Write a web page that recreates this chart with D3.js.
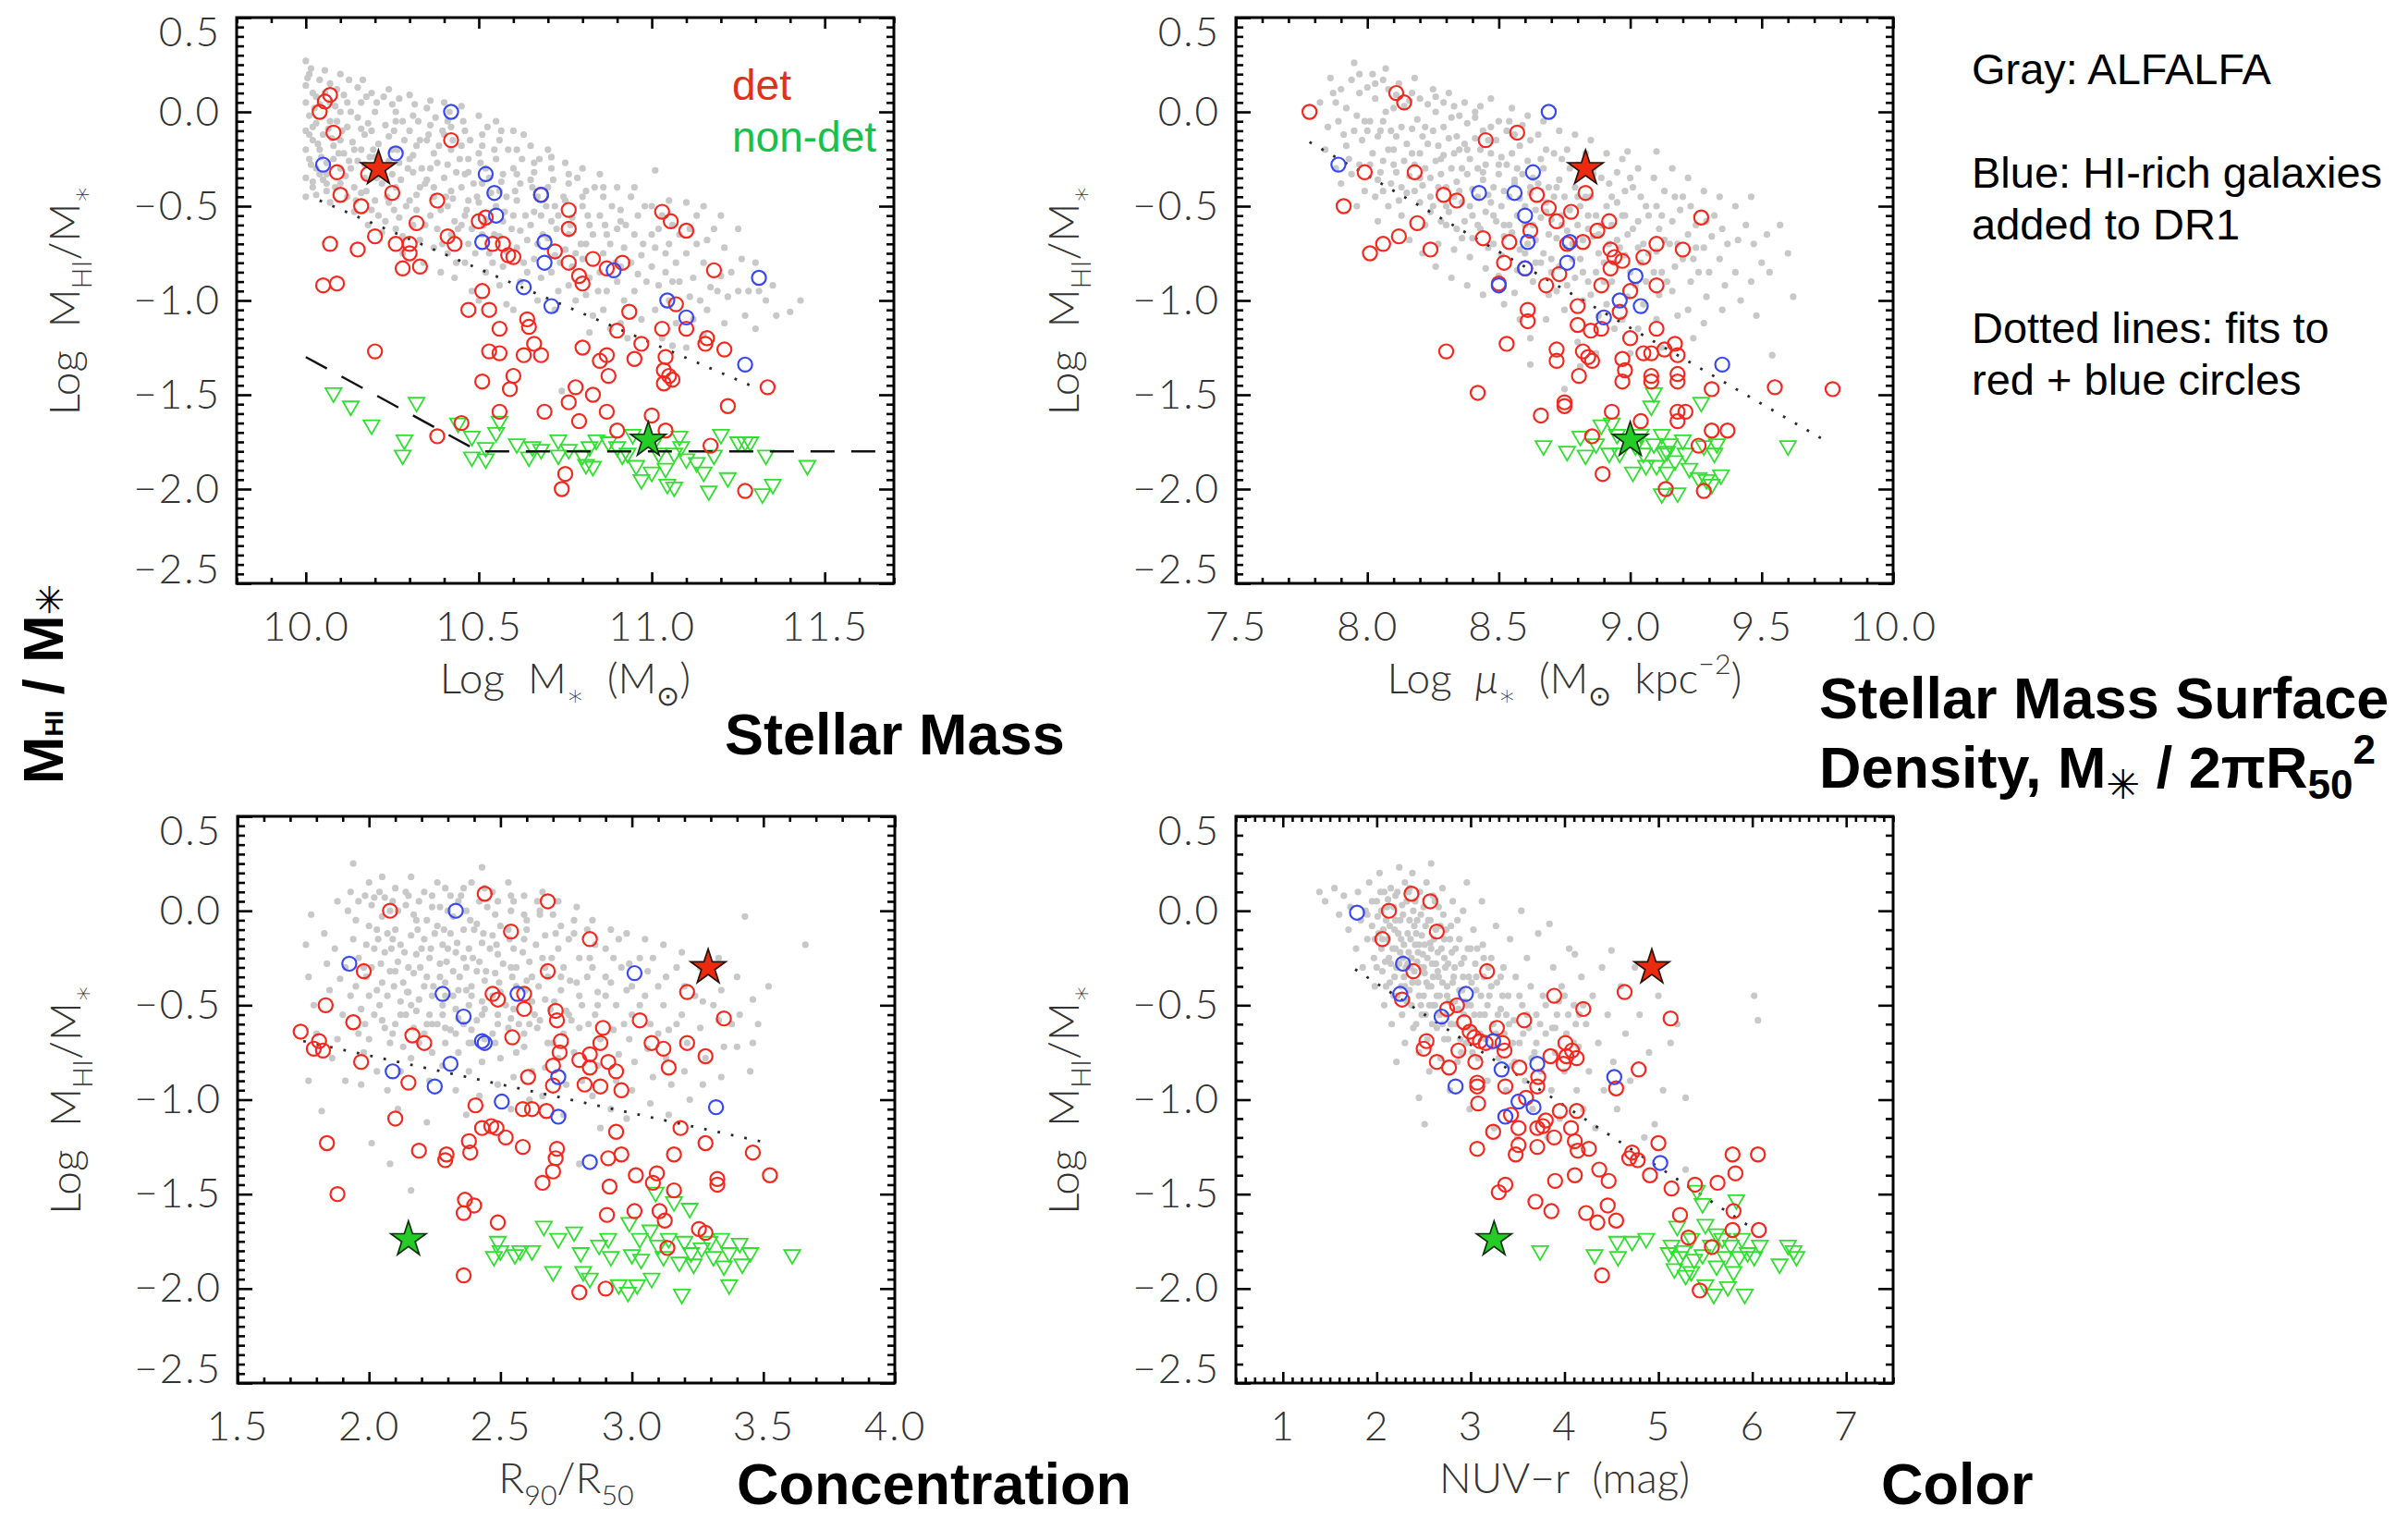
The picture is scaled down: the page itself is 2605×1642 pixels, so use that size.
<!DOCTYPE html>
<html>
<head>
<meta charset="utf-8">
<script src="https://cdn.jsdelivr.net/npm/d3@7"></script>
<style>
  html, body { margin: 0; padding: 0; background: #fff; }
  svg { display: block; }
</style>
</head>
<body>
<svg id="fig" width="2605" height="1642"></svg>
<script>
// ---------------------------------------------------------------
// Tick labels
// ---------------------------------------------------------------
const ratioTicks   = [0.5, 0.0, -0.5, -1.0, -1.5, -2.0, -2.5];
const massTicks    = [10.0, 10.5, 11.0, 11.5];
const densityTicks = [7.5, 8.0, 8.5, 9.0, 9.5, 10.0];
const concTicks    = [1.5, 2.0, 2.5, 3.0, 3.5, 4.0];
const colorTicks   = [1, 2, 3, 4, 5, 6, 7];

// ---------------------------------------------------------------
// Stellar mass panel: [log M*, log MHI/M*]
// ---------------------------------------------------------------
const massDet = [[10.07,0.09],[10.055,0.055],[10.04,0.0],[10.08,-0.11],[10.09,-0.32],[10.10,-0.44],[10.16,-0.50],[10.18,-0.33],[10.25,-0.43],[10.20,-0.66],[10.07,-0.70],[10.15,-0.73],[10.26,-0.70],[10.30,-0.70],[10.30,-0.75],[10.32,-0.59],[10.28,-0.83],[10.33,-0.82],[10.05,-0.92],[10.09,-0.91],[10.20,-1.27],[10.38,-0.47],[10.42,-0.15],[10.41,-0.66],[10.43,-0.70],[10.50,-0.58],[10.52,-0.56],[10.54,-0.70],[10.57,-0.70],[10.585,-0.76],[10.60,-0.77],[10.51,-0.95],[10.47,-1.05],[10.53,-1.05],[10.56,-1.15],[10.53,-1.27],[10.56,-1.28],[10.64,-1.10],[10.645,-1.14],[10.66,-1.23],[10.63,-1.29],[10.68,-1.29],[10.51,-1.43],[10.60,-1.40],[10.59,-1.47],[10.56,-1.59],[10.45,-1.65],[10.38,-1.72],[10.68,-0.44],[10.76,-0.52],[10.76,-0.62],[10.72,-0.74],[10.76,-0.80],[10.83,-0.78],[10.79,-0.87],[10.80,-0.91],[10.87,-0.83],[10.915,-0.80],[10.80,-1.25],[10.78,-1.46],[10.76,-1.54],[10.79,-1.64],[10.69,-1.59],[10.83,-1.50],[10.85,-1.32],[10.87,-1.29],[10.875,-1.40],[10.87,-1.59],[10.90,-1.69],[10.935,-1.06],[10.90,-1.16],[10.97,-1.23],[10.95,-1.31],[10.75,-1.92],[10.74,-2.0],[11.03,-0.53],[11.055,-0.58],[11.10,-0.63],[11.07,-1.02],[11.03,-1.15],[11.10,-1.15],[11.04,-1.30],[11.035,-1.37],[11.05,-1.40],[11.06,-1.42],[11.035,-1.44],[11.00,-1.61],[11.04,-1.69],[11.18,-0.84],[11.16,-1.20],[11.155,-1.23],[11.21,-1.26],[11.335,-1.46],[11.22,-1.56],[11.17,-1.77],[11.27,-2.01]];
const massHiRich = [[10.42,0.0],[10.26,-0.22],[10.05,-0.28],[10.52,-0.33],[10.545,-0.43],[10.55,-0.55],[10.68,-0.44],[10.51,-0.69],[10.69,-0.69],[10.69,-0.80],[10.63,-0.93],[10.71,-1.03],[10.89,-0.84],[11.045,-1.00],[11.10,-1.09],[11.31,-0.88],[11.27,-1.34]];
const massNonDet = [[10.08,-1.49],[10.13,-1.56],[10.19,-1.66],[10.32,-1.54],[10.285,-1.74],[10.28,-1.82],[10.44,-1.65],[10.48,-1.72],[10.48,-1.83],[10.52,-1.78],[10.52,-1.84],[10.55,-1.70],[10.56,-1.64],[10.61,-1.76],[10.645,-1.83],[10.655,-1.775],[10.68,-1.79],[10.73,-1.74],[10.73,-1.82],[10.76,-1.79],[10.80,-1.82],[10.81,-1.87],[10.83,-1.88],[10.82,-1.775],[10.84,-1.74],[10.875,-1.75],[10.90,-1.775],[10.915,-1.82],[10.945,-1.71],[10.955,-1.875],[10.97,-1.95],[11.00,-1.91],[11.02,-1.81],[11.04,-1.89],[11.045,-1.975],[11.065,-1.99],[11.065,-1.81],[11.08,-1.72],[11.085,-1.775],[11.10,-1.84],[11.13,-1.86],[11.15,-1.91],[11.165,-2.01],[11.18,-1.82],[11.20,-1.71],[11.22,-1.94],[11.25,-1.75],[11.27,-1.75],[11.285,-1.75],[11.33,-1.82],[11.32,-2.025],[11.35,-1.975],[11.45,-1.875],[10.93,-1.81],[11.01,-1.74]];
const massAlfalfa = [[10.0,0.27],[10.01,0.2],[10.0,0.14],[10.02,0.1],[10.0,0.05],[10.01,-0.02],[10.03,-0.06],[10.0,-0.1],[10.02,-0.15],[10.0,-0.2],[10.01,-0.25],[10.03,-0.3],[10.0,-0.35],[10.02,-0.4],[10.0,-0.45],[10.04,0.17],[10.04,0.04],[10.05,-0.12],[10.04,-0.2],[10.06,-0.27],[10.05,-0.36],[10.06,-0.42],[10.07,0.15],[10.07,-0.05],[10.08,-0.18],[10.08,-0.25],[10.07,-0.48],
[10.1,0.2],[10.11,0.09],[10.1,0.0],[10.12,-0.08],[10.1,-0.15],[10.11,-0.22],[10.13,-0.3],[10.1,-0.38],[10.12,-0.45],[10.14,-0.53],[10.15,0.13],[10.16,0.05],[10.15,-0.03],[10.17,-0.12],[10.16,-0.2],[10.15,-0.26],[10.17,-0.35],[10.16,-0.43],[10.18,-0.6],[10.19,0.1],[10.2,0.0],[10.19,-0.1],[10.21,-0.17],[10.2,-0.24],[10.22,-0.38],[10.2,-0.47],[10.21,-0.55],[10.22,-0.64],
[10.24,0.12],[10.25,0.04],[10.26,-0.05],[10.24,-0.13],[10.25,-0.2],[10.27,-0.27],[10.25,-0.33],[10.26,-0.4],[10.24,-0.48],[10.27,-0.56],[10.26,-0.62],[10.28,-0.75],[10.3,0.09],[10.31,-0.02],[10.3,-0.1],[10.32,-0.18],[10.3,-0.25],[10.31,-0.32],[10.33,-0.4],[10.3,-0.47],[10.32,-0.52],[10.31,-0.6],[10.33,-0.68],[10.34,-0.8],[10.35,0.02],[10.36,-0.07],[10.35,-0.15],[10.37,-0.22],[10.36,-0.3],[10.35,-0.36],[10.37,-0.45],[10.36,-0.55],[10.38,-0.62],[10.37,-0.72],[10.39,-0.85],
[10.4,0.05],[10.41,-0.05],[10.4,-0.12],[10.42,-0.2],[10.41,-0.28],[10.4,-0.35],[10.42,-0.42],[10.41,-0.5],[10.43,-0.58],[10.42,-0.65],[10.41,-0.75],[10.43,-0.88],[10.45,0.03],[10.46,-0.1],[10.45,-0.18],[10.47,-0.25],[10.46,-0.33],[10.45,-0.4],[10.47,-0.47],[10.46,-0.55],[10.48,-0.62],[10.47,-0.7],[10.46,-0.8],[10.48,-0.95],[10.5,-0.02],[10.51,-0.12],[10.5,-0.22],[10.52,-0.3],[10.51,-0.38],[10.5,-0.48],[10.52,-0.57],[10.51,-0.65],[10.53,-0.75],[10.52,-0.85],[10.5,-1.0],
[10.55,-0.05],[10.56,-0.15],[10.55,-0.25],[10.57,-0.33],[10.56,-0.42],[10.55,-0.5],[10.57,-0.58],[10.56,-0.66],[10.58,-0.74],[10.57,-0.82],[10.56,-0.92],[10.58,-1.02],[10.6,-0.1],[10.61,-0.2],[10.6,-0.3],[10.62,-0.38],[10.61,-0.47],[10.6,-0.55],[10.62,-0.63],[10.61,-0.72],[10.63,-0.8],[10.62,-0.9],[10.6,-1.05],[10.65,-0.18],[10.66,-0.27],[10.65,-0.36],[10.67,-0.45],[10.66,-0.53],[10.65,-0.6],[10.67,-0.7],[10.66,-0.78],[10.68,-0.88],[10.67,-1.0],
[10.7,-0.2],[10.71,-0.3],[10.7,-0.4],[10.72,-0.5],[10.71,-0.58],[10.7,-0.67],[10.72,-0.76],[10.71,-0.85],[10.73,-0.95],[10.72,-1.05],[10.75,-0.27],[10.76,-0.38],[10.75,-0.47],[10.77,-0.56],[10.76,-0.65],[10.75,-0.73],[10.77,-0.82],[10.76,-0.92],[10.78,-1.0],[10.74,-1.48],[10.8,-0.3],[10.81,-0.42],[10.8,-0.5],[10.82,-0.6],[10.81,-0.7],[10.8,-0.78],[10.82,-0.88],[10.81,-0.97],[10.83,-1.08],[10.82,-1.17],
[10.85,-0.33],[10.86,-0.45],[10.85,-0.55],[10.87,-0.65],[10.86,-0.75],[10.85,-0.85],[10.87,-0.95],[10.86,-1.05],[10.88,-1.15],[10.9,-0.4],[10.91,-0.52],[10.9,-0.62],[10.92,-0.72],[10.91,-0.82],[10.9,-0.9],[10.92,-1.0],[10.91,-1.12],[10.93,-1.2],[10.95,-0.4],[10.96,-0.55],[10.95,-0.65],[10.97,-0.76],[10.96,-0.86],[10.95,-0.95],[10.97,-1.1],
[11.01,-0.31],[11.0,-0.5],[11.02,-0.62],[11.01,-0.72],[11.0,-0.82],[11.02,-0.92],[11.01,-1.05],[11.03,-1.2],[11.05,-0.47],[11.06,-0.6],[11.05,-0.7],[11.07,-0.8],[11.06,-0.9],[11.05,-1.0],[11.07,-1.12],[11.06,-1.24],[11.1,-0.48],[11.11,-0.62],[11.1,-0.75],[11.12,-0.88],[11.11,-0.98],[11.12,-1.1],[11.1,-1.25],
[11.15,-0.5],[11.16,-0.68],[11.15,-0.8],[11.17,-0.93],[11.16,-1.05],[11.15,-1.18],[11.2,-0.55],[11.21,-0.72],[11.2,-0.87],[11.22,-0.98],[11.21,-1.12],[11.25,-0.62],[11.26,-0.78],[11.25,-0.95],[11.27,-1.08],[11.3,-0.8],[11.31,-0.95],[11.3,-1.15],[11.35,-0.92],[11.36,-1.08],[11.4,-1.06],[11.43,-1.0],
[10.015,0.23],[10.03,0.08],[10.02,-0.08],[10.035,-0.17],[10.015,-0.28],[10.04,-0.33],[10.03,-0.44],[10.055,0.1],[10.065,-0.09],[10.06,-0.33],[10.085,0.03],[10.09,-0.05],[10.095,-0.22],[10.1,-0.3],[10.085,-0.4],[10.125,0.17],[10.13,0.0],[10.135,-0.16],[10.125,-0.26],[10.14,-0.4],[10.145,-0.47],[10.175,0.08],[10.18,-0.06],[10.185,-0.24],[10.175,-0.42],[10.19,-0.52],[10.205,0.05],[10.23,-0.07],[10.215,-0.3],[10.235,-0.45],[10.23,-0.58],[10.255,-0.1],[10.27,0.07],[10.285,-0.15],[10.275,-0.36],[10.29,-0.5],[10.28,-0.66],[10.31,-0.23],[10.325,-0.05],[10.335,-0.3],[10.32,-0.44],[10.345,-0.6],[10.355,-0.12],[10.375,-0.03],[10.385,-0.18],[10.37,-0.4],[10.39,-0.52],[10.395,-0.7],[10.415,0.0],[10.425,-0.15],[10.435,-0.32],[10.425,-0.46],[10.44,-0.62],[10.435,-0.8],[10.455,-0.05],[10.475,-0.15],[10.485,-0.38],[10.465,-0.52],[10.49,-0.75],[10.505,-0.27],[10.525,-0.08],[10.535,-0.43],[10.515,-0.6],[10.54,-0.8],[10.545,-0.2],[10.565,-0.37],[10.575,-0.53],[10.585,-0.2],[10.595,-0.62],[10.605,-0.42],[10.625,-0.25],[10.635,-0.55],[10.64,-0.85],[10.655,-0.4],[10.675,-0.25],[10.685,-0.65],[10.695,-0.5],[10.715,-0.36],[10.725,-0.62],[10.735,-0.8],[10.745,-0.45],[10.765,-0.6],[10.785,-0.35],[10.795,-0.7],[10.815,-0.55],[10.835,-0.4],[10.845,-0.95],[10.865,-0.6],[10.885,-0.5],[10.895,-0.8],[10.925,-0.6],[10.94,-0.45],[10.975,-0.7],[10.985,-0.9],[11.03,-0.55],[11.04,-0.85],[11.08,-0.65],[11.13,-0.7],[11.14,-1.0],[11.18,-0.62],[11.23,-0.85],[11.28,-0.95],[11.33,-1.0],
[10.005,0.18],[10.025,0.02],[10.01,-0.12],[10.045,-0.24],[10.02,-0.37],[10.055,0.22],[10.07,0.05],[10.075,-0.14],[10.06,-0.38],[10.09,0.12],[10.105,-0.1],[10.115,-0.34],[10.12,0.05],[10.14,-0.2],[10.165,0.17],[10.16,-0.09],[10.17,-0.28],[10.195,-0.2],[10.205,-0.35],[10.225,0.08],[10.24,-0.26],[10.26,0.0],[10.265,-0.2],[10.255,-0.52],[10.28,-0.05],[10.295,-0.3],[10.315,0.04],[10.33,-0.15],[10.345,-0.38],[10.36,0.06],[10.38,-0.27],[10.395,-0.1],[10.405,-0.45],[10.42,-0.08],[10.445,-0.25],[10.45,-0.6],[10.47,-0.32],[10.495,-0.45],[10.51,-0.18],[10.53,-0.35],[10.545,-0.65],[10.565,-0.1],[10.58,-0.45],[10.61,-0.33],[10.63,-0.12],[10.64,-0.68],[10.66,-0.32],[10.68,-0.55],[10.71,-0.24],[10.73,-0.55],[10.76,-0.33],[10.78,-0.75],[10.8,-0.45],[10.83,-0.65],[10.86,-0.4],[10.88,-0.7],[10.91,-0.58],[10.94,-0.8],[10.98,-0.5],[11.0,-0.65],[11.04,-0.75],[11.08,-0.9],[11.13,-0.55],[11.19,-0.95]];
const massFit = [[10.04,-0.47],[11.31,-1.47]];
const massLimit = [[10.0,-1.3],[10.5,-1.8],[11.7,-1.8]];
const massStarDet = [10.21,-0.30];
const massStarNonDet = [10.99,-1.74];

// ---------------------------------------------------------------
// Stellar mass surface density panel: [log mu*, log MHI/M*]
// ---------------------------------------------------------------
const densityDet = [[7.78,0.0],[8.11,0.10],[8.14,0.05],[8.45,-0.15],[8.57,-0.11],[7.99,-0.32],[8.18,-0.32],[7.91,-0.50],[8.29,-0.44],[8.34,-0.47],[8.19,-0.59],[8.01,-0.75],[8.06,-0.70],[8.12,-0.66],[8.24,-0.73],[8.44,-0.67],[8.54,-0.69],[8.52,-0.80],[8.60,-0.83],[8.62,-0.63],[8.645,-0.44],[8.69,-0.51],[8.72,-0.58],[8.775,-0.53],[8.83,-0.43],[8.76,-0.70],[8.82,-0.69],[8.875,-0.63],[8.92,-0.58],[8.925,-0.73],[8.94,-0.77],[8.925,-0.83],[8.97,-0.79],[9.05,-0.77],[9.10,-0.70],[9.20,-0.73],[9.27,-0.56],[9.10,-0.92],[8.89,-0.92],[8.73,-0.86],[8.68,-0.92],[8.50,-0.91],[8.61,-1.05],[8.61,-1.11],[8.80,-1.03],[8.80,-1.13],[8.85,-1.16],[8.89,-1.15],[8.96,-1.06],[9.0,-0.95],[9.0,-1.20],[9.10,-1.15],[8.82,-1.27],[8.84,-1.30],[8.855,-1.32],[8.72,-1.26],[8.72,-1.32],[8.53,-1.23],[8.30,-1.27],[8.42,-1.49],[8.66,-1.61],[8.75,-1.54],[8.75,-1.56],[8.805,-1.40],[8.97,-1.31],[8.98,-1.37],[8.97,-1.43],[9.05,-1.28],[9.08,-1.28],[9.13,-1.26],[9.17,-1.23],[9.18,-1.29],[9.08,-1.40],[9.08,-1.43],[9.18,-1.39],[9.18,-1.43],[9.31,-1.47],[8.93,-1.59],[9.04,-1.64],[9.18,-1.59],[9.21,-1.59],[9.18,-1.64],[8.855,-1.72],[8.895,-1.92],[9.31,-1.69],[9.37,-1.69],[9.26,-1.77],[9.135,-2.0],[9.28,-2.01],[9.55,-1.46],[9.77,-1.47]];
const densityHiRich = [[8.69,0.0],[7.89,-0.28],[8.63,-0.32],[8.425,-0.43],[8.56,-0.43],[8.60,-0.55],[8.61,-0.69],[8.77,-0.69],[8.76,-0.80],[8.60,-0.83],[8.50,-0.92],[9.02,-0.87],[8.96,-1.0],[9.04,-1.03],[8.90,-1.09],[9.35,-1.34]];
const densityNonDet = [[8.67,-1.77],[8.76,-1.80],[8.81,-1.72],[8.83,-1.82],[8.87,-1.76],[8.89,-1.66],[8.93,-1.65],[8.92,-1.81],[8.95,-1.71],[8.96,-1.81],[9.02,-1.77],[9.04,-1.71],[9.05,-1.81],[9.09,-1.76],[9.09,-1.49],[9.08,-1.56],[9.10,-1.875],[9.12,-1.71],[9.13,-1.81],[9.14,-1.91],[9.15,-1.76],[9.17,-1.85],[9.18,-2.02],[9.20,-1.74],[9.21,-1.81],[9.225,-1.89],[9.26,-1.94],[9.27,-1.54],[9.28,-1.77],[9.29,-1.95],[9.31,-1.975],[9.32,-1.81],[9.33,-1.76],[9.345,-1.925],[9.01,-1.91],[9.06,-1.875],[9.14,-1.80],[9.60,-1.77],[9.12,-2.025]];
const densityAlfalfa = [[7.82,0.05],[7.85,-0.08],[7.86,0.18],[7.84,-0.2],[7.88,-0.3],[7.9,0.12],[7.92,0.02],[7.91,-0.12],[7.93,-0.25],[7.9,-0.38],[7.95,0.26],[7.97,0.1],[7.96,-0.02],[7.98,-0.15],[7.97,-0.28],[7.99,-0.42],[7.96,-0.5],
[8.02,0.2],[8.03,0.07],[8.01,-0.05],[8.04,-0.13],[8.02,-0.22],[8.05,-0.32],[8.03,-0.45],[8.04,-0.58],[8.07,0.23],[8.08,0.12],[8.07,0.0],[8.09,-0.1],[8.08,-0.2],[8.1,-0.28],[8.09,-0.38],[8.08,-0.5],
[8.12,0.15],[8.14,0.03],[8.13,-0.08],[8.15,-0.17],[8.14,-0.26],[8.16,-0.34],[8.15,-0.43],[8.13,-0.55],[8.16,-0.68],[8.18,0.18],[8.2,0.07],[8.19,-0.04],[8.21,-0.13],[8.2,-0.22],[8.22,-0.3],[8.21,-0.39],[8.2,-0.48],[8.22,-0.6],[8.21,-0.75],
[8.25,0.12],[8.26,0.0],[8.25,-0.1],[8.27,-0.18],[8.26,-0.26],[8.28,-0.33],[8.27,-0.4],[8.25,-0.5],[8.28,-0.58],[8.27,-0.7],[8.26,-0.82],[8.31,0.1],[8.32,-0.03],[8.31,-0.14],[8.33,-0.22],[8.32,-0.3],[8.34,-0.37],[8.33,-0.45],[8.31,-0.53],[8.34,-0.62],[8.33,-0.73],[8.32,-0.88],
[8.37,0.05],[8.38,-0.06],[8.37,-0.17],[8.39,-0.25],[8.38,-0.33],[8.4,-0.41],[8.39,-0.5],[8.37,-0.58],[8.4,-0.67],[8.39,-0.77],[8.38,-0.92],[8.43,0.03],[8.44,-0.1],[8.43,-0.2],[8.45,-0.28],[8.44,-0.36],[8.46,-0.44],[8.45,-0.53],[8.43,-0.62],[8.46,-0.72],[8.45,-0.83],[8.44,-0.97],
[8.47,0.07],[8.5,-0.05],[8.49,-0.15],[8.51,-0.24],[8.5,-0.33],[8.52,-0.42],[8.51,-0.5],[8.49,-0.58],[8.52,-0.66],[8.51,-0.76],[8.5,-0.87],[8.52,-1.02],[8.55,0.02],[8.56,-0.12],[8.55,-0.22],[8.57,-0.3],[8.56,-0.38],[8.58,-0.46],[8.57,-0.55],[8.55,-0.64],[8.58,-0.73],[8.57,-0.84],[8.56,-0.96],[8.58,-1.1],
[8.61,-0.02],[8.62,-0.15],[8.61,-0.26],[8.63,-0.35],[8.62,-0.43],[8.64,-0.52],[8.63,-0.6],[8.61,-0.7],[8.64,-0.8],[8.63,-0.9],[8.62,-1.2],[8.62,-1.34],[8.67,-0.05],[8.68,-0.2],[8.67,-0.3],[8.69,-0.4],[8.68,-0.48],[8.7,-0.57],[8.69,-0.65],[8.67,-0.75],[8.7,-0.85],[8.69,-0.97],[8.68,-1.1],
[8.73,-0.1],[8.74,-0.25],[8.73,-0.36],[8.75,-0.45],[8.74,-0.55],[8.76,-0.63],[8.75,-0.72],[8.73,-0.82],[8.76,-0.92],[8.75,-1.05],[8.75,-1.47],[8.79,-0.12],[8.8,-0.28],[8.79,-0.4],[8.81,-0.5],[8.8,-0.6],[8.82,-0.68],[8.81,-0.78],[8.79,-0.88],[8.82,-1.0],[8.8,-1.22],[8.81,-1.35],
[8.85,-0.15],[8.86,-0.33],[8.85,-0.45],[8.87,-0.55],[8.86,-0.66],[8.88,-0.75],[8.87,-0.85],[8.85,-0.97],[8.88,-1.08],[8.87,-1.28],[8.91,-0.22],[8.92,-0.38],[8.91,-0.5],[8.93,-0.6],[8.92,-0.7],[8.94,-0.8],[8.93,-0.9],[8.91,-1.02],[8.94,-1.15],
[8.97,-0.25],[8.99,-0.21],[8.98,-0.42],[8.97,-0.55],[8.99,-0.65],[8.98,-0.76],[9.0,-0.85],[8.99,-0.98],[8.97,-1.1],[9.0,-1.28],[9.03,-0.3],[9.04,-0.45],[9.03,-0.58],[9.05,-0.7],[9.04,-0.8],[9.06,-0.9],[9.05,-1.02],[9.03,-1.15],
[9.1,-0.21],[9.09,-0.35],[9.1,-0.5],[9.11,-0.62],[9.1,-0.74],[9.12,-0.85],[9.11,-0.97],[9.1,-1.1],[9.12,-1.25],[9.16,-0.3],[9.17,-0.45],[9.16,-0.58],[9.18,-0.7],[9.17,-0.82],[9.16,-0.95],[9.18,-1.08],
[9.22,-0.35],[9.23,-0.5],[9.22,-0.65],[9.24,-0.78],[9.23,-0.9],[9.22,-1.05],[9.24,-1.2],[9.28,-0.42],[9.29,-0.58],[9.28,-0.72],[9.3,-0.85],[9.29,-0.98],[9.28,-1.12],
[9.34,-0.45],[9.35,-0.62],[9.34,-0.78],[9.36,-0.92],[9.35,-1.05],[9.4,-0.5],[9.41,-0.68],[9.4,-0.85],[9.42,-1.0],[9.46,-0.45],[9.47,-0.7],[9.46,-0.9],[9.48,-1.08],[9.52,-0.65],[9.53,-0.85],[9.54,-1.29],[9.57,-0.6],[9.6,-0.75],[9.62,-0.98],
[7.87,0.1],[7.89,-0.05],[7.94,0.17],[7.95,-0.1],[7.94,-0.33],[8.0,0.13],[8.0,-0.1],[8.01,-0.28],[8.06,0.17],[8.06,-0.05],[8.06,-0.26],[8.06,-0.42],[8.11,0.09],[8.11,-0.13],[8.11,-0.32],[8.12,-0.47],[8.17,0.1],[8.17,-0.09],[8.18,-0.28],[8.18,-0.42],[8.23,0.04],[8.23,-0.17],[8.24,-0.35],[8.24,-0.53],[8.29,0.05],[8.29,-0.08],[8.29,-0.23],[8.3,-0.4],[8.3,-0.6],[8.35,-0.02],[8.35,-0.2],[8.36,-0.3],[8.36,-0.48],[8.36,-0.67],[8.41,-0.03],[8.41,-0.14],[8.42,-0.3],[8.42,-0.45],[8.42,-0.6],[8.47,-0.08],[8.47,-0.22],[8.48,-0.4],[8.48,-0.55],[8.48,-0.7],[8.53,-0.1],[8.53,-0.28],[8.54,-0.45],[8.54,-0.6],[8.59,-0.07],[8.59,-0.33],[8.6,-0.5],[8.6,-0.75],[8.65,-0.12],[8.65,-0.38],[8.66,-0.56],[8.66,-0.8],[8.71,-0.22],[8.71,-0.45],[8.72,-0.67],[8.72,-0.95],[8.77,-0.3],[8.77,-0.52],[8.78,-0.78],[8.83,-0.22],[8.83,-0.45],[8.84,-0.62],[8.84,-0.9],[8.89,-0.35],[8.89,-0.6],[8.9,-0.8],[8.95,-0.32],[8.95,-0.48],[8.96,-0.72],[9.01,-0.4],[9.01,-0.62],[9.02,-0.92],[9.07,-0.55],[9.07,-0.75],[9.13,-0.42],[9.13,-0.68],[9.14,-0.9],[9.19,-0.52],[9.2,-0.78],[9.25,-0.6],[9.26,-0.85],[9.31,-0.66],[9.37,-0.7],[9.44,-0.6],[9.5,-0.8],
[7.88,0.05],[7.92,-0.18],[7.97,0.2],[7.99,-0.05],[8.03,0.15],[8.04,-0.36],[8.05,-0.1],[8.1,0.02],[8.1,-0.2],[8.13,-0.4],[8.16,0.06],[8.17,-0.22],[8.2,-0.35],[8.22,-0.08],[8.24,-0.45],[8.26,0.08],[8.28,-0.25],[8.3,-0.5],[8.33,0.03],[8.34,-0.13],[8.35,-0.42],[8.38,-0.2],[8.4,-0.55],[8.41,0.0],[8.44,-0.32],[8.46,-0.15],[8.47,-0.48],[8.5,-0.28],[8.52,-0.6],[8.54,-0.05],[8.56,-0.36],[8.58,-0.18],[8.6,-0.6],[8.62,-0.4],[8.64,-0.68],[8.66,-0.25],[8.68,-0.53],[8.7,-0.78],[8.72,-0.4],[8.74,-0.6],[8.76,-0.2],[8.78,-0.7],[8.8,-0.45],[8.82,-0.85],[8.84,-0.55],[8.86,-0.3],[8.88,-0.65],[8.9,-0.9],[8.93,-0.45],[8.95,-0.68],[8.98,-0.55],[9.0,-0.35],[9.03,-0.72],[9.06,-0.5],[9.09,-0.85],[9.12,-0.55],[9.15,-0.7],[9.2,-0.45],[9.25,-0.72],[9.32,-0.55]];
const densityFit = [[7.78,-0.16],[9.75,-1.75]];
const densityStarDet = [8.83,-0.30];
const densityStarNonDet = [9.0,-1.74];

// ---------------------------------------------------------------
// Concentration panel: [R90/R50, log MHI/M*]
// ---------------------------------------------------------------
const concDet = [[2.08,0.0],[2.44,0.09],[2.68,0.05],[2.54,-0.11],[2.84,-0.15],[1.98,-0.32],[2.68,-0.32],[1.835,-0.50],[1.94,-0.59],[1.74,-0.64],[1.81,-0.69],[1.79,-0.73],[1.825,-0.74],[1.97,-0.80],[2.165,-0.66],[2.21,-0.70],[2.15,-0.91],[2.47,-0.44],[2.49,-0.47],[2.59,-0.44],[2.59,-0.52],[2.545,-0.67],[2.71,-0.53],[2.715,-0.58],[2.73,-0.69],[2.725,-0.75],[2.70,-0.82],[2.70,-0.925],[2.80,-0.79],[2.84,-0.76],[2.84,-0.83],[2.88,-0.70],[2.89,-0.62],[2.91,-0.80],[2.94,-0.85],[2.82,-0.92],[2.88,-0.93],[2.96,-0.95],[3.03,-0.58],[3.075,-0.70],[3.12,-0.73],[3.21,-0.70],[3.21,-0.43],[3.28,-0.77],[3.14,-0.83],[3.35,-0.57],[2.605,-0.88],[2.405,-1.03],[2.585,-1.05],[2.62,-1.05],[2.675,-1.06],[2.10,-1.10],[1.84,-1.23],[1.88,-1.50],[2.19,-1.27],[2.295,-1.29],[2.29,-1.32],[2.38,-1.22],[2.385,-1.28],[2.43,-1.15],[2.465,-1.14],[2.485,-1.15],[2.52,-1.20],[2.585,-1.25],[2.66,-1.44],[2.70,-1.38],[2.71,-1.31],[2.715,-1.26],[2.94,-1.17],[2.91,-1.31],[2.96,-1.29],[2.915,-1.46],[3.015,-1.40],[3.095,-1.39],[3.08,-1.44],[3.16,-1.29],[3.185,-1.15],[3.28,-1.23],[3.46,-1.28],[3.525,-1.40],[3.325,-1.42],[3.325,-1.45],[3.16,-1.48],[2.365,-1.53],[2.36,-1.60],[2.40,-1.56],[2.49,-1.65],[2.36,-1.93],[3.01,-1.59],[2.905,-1.61],[3.105,-1.59],[3.125,-1.64],[3.255,-1.685],[3.28,-1.705],[3.135,-1.785],[2.80,-2.02],[2.90,-2.0]];
const concHiRich = [[2.33,0.0],[1.925,-0.28],[2.28,-0.44],[2.565,-0.44],[2.36,-0.56],[2.43,-0.69],[2.44,-0.70],[2.31,-0.81],[2.09,-0.85],[2.25,-0.93],[2.72,-0.88],[2.505,-1.01],[2.72,-1.09],[2.84,-1.33],[3.01,-0.33],[3.32,-1.04]];
const concNonDet = [[2.665,-1.67],[2.78,-1.70],[2.72,-1.735],[2.49,-1.75],[2.50,-1.80],[2.475,-1.83],[2.575,-1.80],[2.555,-1.82],[2.62,-1.80],[2.70,-1.91],[2.805,-1.81],[2.815,-1.91],[2.84,-1.945],[2.875,-1.77],[2.91,-1.735],[2.92,-1.83],[2.95,-1.98],[2.985,-2.02],[2.99,-1.65],[3.0,-1.82],[3.03,-1.735],[3.035,-1.845],[3.07,-1.69],[3.075,-1.945],[3.09,-1.49],[3.10,-1.77],[3.12,-1.83],[3.16,-1.54],[3.18,-1.86],[3.19,-2.03],[3.20,-1.75],[3.22,-1.575],[3.225,-1.81],[3.235,-1.87],[3.265,-1.785],[3.295,-1.75],[3.31,-1.83],[3.34,-1.735],[3.35,-1.88],[3.37,-1.81],[3.37,-1.98],[3.41,-1.76],[3.42,-1.87],[3.45,-1.81],[3.61,-1.82],[3.02,-1.98],[3.14,-1.735]];
const concAlfalfa = [[1.76,-0.18],[1.78,-0.02],[1.77,-0.35],[1.79,-0.5],[1.77,-0.9],[1.8,-0.65],[1.82,-1.06],[1.83,-0.12],[1.84,-0.28],[1.85,-0.42],[1.86,-0.78],[1.88,0.05],[1.87,-0.2],[1.89,-0.36],[1.9,-0.55],[1.88,-0.68],[1.91,-0.9],
[1.94,0.25],[1.93,0.1],[1.95,-0.05],[1.94,-0.15],[1.96,-0.25],[1.95,-0.4],[1.97,-0.52],[1.96,-0.65],[1.98,-0.75],[1.97,-0.92],[2.0,0.15],[2.01,0.03],[2.0,-0.08],[2.02,-0.2],[2.01,-0.3],[2.03,-0.42],[2.02,-0.55],[2.0,-0.68],[2.03,-0.85],[2.01,-1.23],
[2.05,0.18],[2.06,0.07],[2.05,-0.03],[2.07,-0.12],[2.06,-0.22],[2.08,-0.32],[2.07,-0.45],[2.05,-0.58],[2.08,-0.7],[2.07,-0.95],[2.08,-1.34],[2.1,0.12],[2.11,0.0],[2.1,-0.1],[2.12,-0.18],[2.11,-0.27],[2.13,-0.38],[2.12,-0.48],[2.1,-0.6],[2.13,-0.72],[2.12,-0.85],[2.11,-1.05],
[2.16,0.18],[2.15,0.08],[2.17,-0.02],[2.16,-0.13],[2.18,-0.23],[2.17,-0.33],[2.15,-0.43],[2.18,-0.53],[2.17,-0.62],[2.16,-0.78],[2.16,-1.48],[2.21,0.1],[2.22,-0.05],[2.21,-0.15],[2.23,-0.25],[2.22,-0.35],[2.24,-0.45],[2.23,-0.55],[2.21,-0.65],[2.24,-0.75],[2.23,-0.9],[2.22,-1.12],
[2.26,0.15],[2.27,0.02],[2.26,-0.08],[2.28,-0.18],[2.27,-0.28],[2.29,-0.38],[2.28,-0.5],[2.26,-0.6],[2.29,-0.7],[2.28,-0.82],[2.31,0.08],[2.32,-0.03],[2.31,-0.12],[2.33,-0.22],[2.32,-0.32],[2.34,-0.42],[2.33,-0.52],[2.31,-0.63],[2.34,-0.75],[2.33,-0.95],
[2.36,0.12],[2.37,0.0],[2.36,-0.1],[2.38,-0.2],[2.37,-0.3],[2.39,-0.4],[2.38,-0.5],[2.36,-0.6],[2.39,-0.7],[2.38,-0.85],[2.37,-1.08],[2.43,0.23],[2.42,0.05],[2.41,-0.07],[2.43,-0.17],[2.42,-0.27],[2.44,-0.37],[2.43,-0.48],[2.41,-0.58],[2.44,-0.68],[2.43,-0.8],[2.42,-0.98],
[2.47,0.1],[2.48,-0.02],[2.47,-0.13],[2.49,-0.23],[2.48,-0.33],[2.5,-0.43],[2.49,-0.55],[2.47,-0.65],[2.5,-0.78],[2.49,-0.92],[2.53,0.15],[2.54,0.0],[2.53,-0.1],[2.55,-0.2],[2.54,-0.3],[2.56,-0.4],[2.55,-0.52],[2.53,-0.62],[2.56,-0.75],[2.55,-0.88],[2.54,-1.05],
[2.59,0.08],[2.6,-0.05],[2.59,-0.15],[2.61,-0.27],[2.6,-0.37],[2.62,-0.48],[2.61,-0.6],[2.59,-0.72],[2.62,-0.85],[2.61,-1.0],[2.66,0.1],[2.65,-0.02],[2.67,-0.13],[2.66,-0.25],[2.68,-0.35],[2.67,-0.47],[2.65,-0.58],[2.68,-0.7],[2.67,-0.83],[2.66,-0.98],
[2.72,0.05],[2.73,-0.08],[2.72,-0.2],[2.74,-0.3],[2.73,-0.42],[2.75,-0.53],[2.74,-0.65],[2.72,-0.78],[2.75,-0.92],[2.74,-1.08],[2.79,0.02],[2.78,-0.12],[2.8,-0.25],[2.79,-0.38],[2.81,-0.5],[2.8,-0.62],[2.78,-0.75],[2.81,-0.9],[2.8,-1.34],
[2.85,-0.05],[2.86,-0.18],[2.85,-0.3],[2.87,-0.43],[2.86,-0.55],[2.88,-0.68],[2.87,-0.82],[2.85,-0.98],[2.88,-1.15],[2.92,-0.1],[2.93,-0.25],[2.92,-0.38],[2.94,-0.5],[2.93,-0.63],[2.95,-0.76],[2.94,-0.9],[2.92,-1.05],
[2.98,-0.12],[2.99,-0.28],[2.98,-0.42],[3.0,-0.55],[2.99,-0.68],[3.01,-0.8],[3.0,-0.95],[2.98,-1.1],[3.05,-0.15],[3.06,-0.32],[3.05,-0.45],[3.07,-0.6],[3.06,-0.73],[3.08,-0.88],[3.07,-1.02],
[3.12,-0.18],[3.13,-0.35],[3.12,-0.5],[3.14,-0.63],[3.13,-0.78],[3.15,-0.92],[3.14,-1.08],[3.19,-0.22],[3.2,-0.4],[3.19,-0.55],[3.21,-0.7],[3.2,-0.85],[3.22,-1.0],
[3.26,-0.3],[3.27,-0.48],[3.26,-0.62],[3.28,-0.78],[3.27,-0.92],[3.33,-0.25],[3.34,-0.42],[3.33,-0.58],[3.35,-0.72],[3.34,-0.88],[3.4,-0.35],[3.41,-0.55],[3.4,-0.72],[3.43,-0.03],[3.46,-0.47],[3.46,-0.7],[3.48,-0.6],[3.52,-0.4],[3.66,-0.18],
[1.92,0.0],[1.91,-0.3],[1.93,-0.45],[1.985,0.08],[1.99,-0.18],[1.99,-0.35],[1.985,-0.6],[2.04,0.1],[2.035,-0.15],[2.045,-0.28],[2.04,-0.5],[2.09,0.05],[2.085,-0.2],[2.095,-0.4],[2.09,-0.65],[2.14,0.03],[2.135,-0.22],[2.145,-0.43],[2.14,-0.55],[2.19,0.05],[2.185,-0.1],[2.195,-0.3],[2.19,-0.47],[2.19,-0.7],[2.24,0.02],[2.235,-0.2],[2.245,-0.4],[2.24,-0.6],[2.29,0.12],[2.285,-0.1],[2.295,-0.27],[2.29,-0.45],[2.29,-0.62],[2.34,0.05],[2.335,-0.17],[2.345,-0.35],[2.34,-0.57],[2.39,0.15],[2.385,-0.05],[2.395,-0.25],[2.39,-0.45],[2.39,-0.63],[2.44,0.12],[2.435,-0.12],[2.445,-0.32],[2.44,-0.52],[2.49,0.05],[2.485,-0.18],[2.495,-0.38],[2.49,-0.6],[2.54,0.08],[2.535,-0.15],[2.545,-0.35],[2.54,-0.57],[2.59,-0.02],[2.585,-0.22],[2.595,-0.42],[2.59,-0.65],[2.64,0.05],[2.635,-0.18],[2.645,-0.4],[2.64,-0.62],[2.7,-0.02],[2.695,-0.25],[2.705,-0.48],[2.7,-0.7],[2.76,-0.15],[2.765,-0.37],[2.77,-0.58],[2.83,-0.1],[2.83,-0.35],[2.835,-0.6],[2.9,-0.2],[2.9,-0.45],[2.96,-0.3],[2.97,-0.6],[3.03,-0.25],[3.03,-0.5],[3.1,-0.4],[3.1,-0.65],[3.17,-0.3],[3.17,-0.6],[3.24,-0.45],[3.31,-0.5],[3.38,-0.6],[3.45,-0.85],
[1.96,0.05],[1.98,-0.3],[2.0,-0.45],[2.02,0.07],[2.03,-0.1],[2.05,-0.38],[2.06,-0.62],[2.08,0.0],[2.09,-0.15],[2.1,-0.32],[2.12,-0.55],[2.14,0.1],[2.15,-0.3],[2.16,-0.5],[2.18,-0.05],[2.2,-0.2],[2.21,-0.4],[2.22,-0.6],[2.24,0.08],[2.25,-0.12],[2.27,-0.35],[2.28,-0.55],[2.3,0.0],[2.3,-0.2],[2.32,-0.45],[2.33,-0.65],[2.35,0.08],[2.36,-0.25],[2.37,-0.42],[2.38,-0.7],[2.4,-0.1],[2.41,-0.32],[2.43,-0.55],[2.45,0.02],[2.46,-0.2],[2.47,-0.45],[2.48,-0.7],[2.5,-0.08],[2.51,-0.28],[2.52,-0.5],[2.55,0.05],[2.56,-0.3],[2.57,-0.6],[2.6,-0.1],[2.62,-0.35],[2.63,-0.55],[2.65,0.0],[2.67,-0.3],[2.69,-0.52],[2.71,-0.12],[2.73,-0.35],[2.76,-0.55],[2.78,-0.05],[2.8,-0.45],[2.84,-0.25],[2.87,-0.5],[2.9,-0.35],[2.95,-0.15],[3.0,-0.4],[3.08,-0.25]];
const concFit = [[1.75,-0.69],[3.52,-1.23]];
const concStarDet = [3.29,-0.30];
const concStarNonDet = [2.15,-1.74];

// ---------------------------------------------------------------
// Colour panel: [NUV-r, log MHI/M*]
// ---------------------------------------------------------------
const colorDet = [[2.13,0.0],[2.37,0.09],[2.57,0.05],[2.64,-0.11],[2.06,-0.15],[2.39,-0.32],[3.175,-0.32],[2.27,-0.47],[3.89,-0.45],[4.20,-0.52],[3.57,-0.58],[4.64,-0.43],[5.13,-0.57],[2.75,-0.52],[2.855,-0.50],[2.93,-0.59],[2.99,-0.64],[3.04,-0.67],[3.10,-0.69],[3.16,-0.70],[3.28,-0.62],[2.53,-0.69],[2.50,-0.73],[2.87,-0.74],[2.64,-0.80],[2.77,-0.83],[3.05,-0.80],[3.34,-0.70],[3.36,-0.74],[3.07,-0.91],[3.07,-0.93],[3.37,-0.93],[3.52,-0.83],[3.72,-0.88],[3.71,-0.93],[3.85,-0.77],[3.99,-0.81],[4.01,-0.70],[4.08,-0.74],[4.13,-0.78],[4.02,-0.77],[3.08,-1.02],[3.59,-0.99],[3.43,-1.08],[3.51,-1.15],[3.51,-1.24],[3.48,-1.29],[3.24,-1.17],[3.07,-1.26],[3.71,-1.15],[3.77,-1.14],[3.80,-1.11],[3.71,-1.25],[3.89,-1.20],[3.95,-1.06],[4.07,-1.15],[4.13,-1.06],[4.11,-1.22],[4.14,-1.27],[4.26,-1.26],[4.55,-0.94],[4.79,-0.84],[5.00,-1.23],[4.72,-1.28],[4.69,-1.31],[4.78,-1.32],[4.91,-1.40],[4.37,-1.37],[4.47,-1.43],[4.11,-1.40],[3.90,-1.43],[3.37,-1.45],[3.30,-1.49],[3.69,-1.54],[3.86,-1.59],[4.23,-1.60],[4.35,-1.65],[4.46,-1.56],[4.55,-1.64],[4.40,-1.93],[5.14,-1.47],[5.39,-1.45],[5.63,-1.44],[5.79,-1.29],[5.82,-1.39],[6.06,-1.29],[5.80,-1.59],[5.23,-1.61],[5.32,-1.73],[5.57,-1.78],[5.79,-1.69],[6.07,-1.69],[5.44,-2.01]];
const colorHiRich = [[1.79,-0.01],[2.28,-0.28],[2.25,-0.44],[2.69,-0.56],[2.95,-0.44],[3.24,-0.69],[3.33,-0.84],[3.71,-0.81],[2.84,-0.93],[3.51,-1.01],[3.67,-1.04],[3.37,-1.09],[4.53,-0.88],[5.02,-1.335]];
const colorNonDet = [[3.74,-1.80],[4.32,-1.82],[4.56,-1.75],[4.57,-1.83],[4.72,-1.75],[4.87,-1.735],[5.14,-1.77],[5.17,-1.895],[5.20,-1.67],[5.26,-1.80],[5.29,-1.93],[5.35,-1.735],[5.38,-1.845],[5.41,-1.48],[5.47,-1.55],[5.50,-1.66],[5.47,-1.82],[5.50,-1.98],[5.56,-1.77],[5.59,-2.03],[5.62,-1.88],[5.68,-1.735],[5.71,-1.83],[5.74,-1.99],[5.77,-1.77],[5.80,-1.91],[5.83,-1.53],[5.86,-1.83],[5.89,-1.735],[5.92,-2.03],[5.95,-1.81],[6.02,-1.83],[6.08,-1.77],[6.29,-1.87],[6.38,-1.77],[6.44,-1.80],[6.47,-1.83],[5.35,-1.91],[5.23,-1.83],[5.11,-1.81],[5.62,-1.71]];
const colorAlfalfa = [[1.39,0.1],[1.45,0.05],[1.55,0.12],[1.6,-0.02],[1.65,0.08],[1.7,-0.1],[1.72,0.02],[1.78,-0.2],[1.8,0.1],[1.83,-0.05],[1.85,-0.3],[1.88,0.0],[1.9,-0.15],[1.92,0.15],[1.95,-0.08],[1.97,-0.25],[1.98,-0.4],
[2.0,0.05],[2.02,-0.12],[2.03,0.2],[2.05,-0.2],[2.06,-0.32],[2.08,0.1],[2.08,-0.5],[2.1,-0.05],[2.12,-0.15],[2.13,-0.25],[2.14,-0.38],[2.15,0.12],[2.16,-0.6],[2.18,0.02],[2.19,-0.1],[2.2,-0.2],[2.21,-0.3],[2.21,-0.8],[2.22,-0.45],[2.24,0.23],[2.25,-0.05],[2.26,-0.15],[2.27,-0.55],[2.28,-0.25],[2.29,-0.35],[2.3,0.15],[2.3,-0.7],
[2.32,0.05],[2.33,-0.12],[2.34,-0.22],[2.35,-0.42],[2.36,-0.3],[2.37,-0.5],[2.38,0.2],[2.39,0.0],[2.4,-0.08],[2.41,-0.18],[2.42,-0.6],[2.43,-0.27],[2.44,-0.38],[2.45,-0.99],[2.45,-0.75],[2.46,0.1],[2.47,-0.02],[2.48,-0.13],[2.49,-0.23],[2.5,-0.45],[2.51,-1.13],[2.51,-0.33],[2.52,-0.55],[2.53,0.15],[2.54,-0.68],[2.55,-0.05],[2.56,-0.85],[2.57,-0.17],[2.58,0.25],[2.58,-0.4],[2.59,-0.28],
[2.6,-0.5],[2.62,0.05],[2.63,-0.1],[2.64,-0.62],[2.65,-0.22],[2.66,-0.35],[2.67,-0.45],[2.68,-0.78],[2.7,0.12],[2.71,-0.02],[2.72,-0.15],[2.73,-0.3],[2.74,-0.55],[2.75,-0.4],[2.76,-0.68],[2.78,-0.95],[2.79,-0.08],[2.8,-0.22],[2.81,0.05],[2.82,-0.35],[2.83,-0.48],[2.85,-0.6],[2.86,-0.8],[2.88,-0.15],[2.9,-0.28],[2.91,-0.42],[2.92,0.0],[2.93,-0.55],[2.95,-0.7],[2.96,0.15],[2.97,-0.2],[2.98,-0.35],[2.99,-1.05],
[3.0,-0.5],[3.02,-0.62],[3.03,-0.1],[3.05,-0.28],[3.06,-0.42],[3.08,-0.78],[3.1,-0.55],[3.12,0.05],[3.13,-0.18],[3.14,-0.35],[3.16,-0.68],[3.18,-0.9],[3.2,-0.45],[3.22,-0.25],[3.24,-0.6],[3.25,-1.15],[3.27,-0.08],[3.28,-0.38],[3.3,-0.78],[3.32,-0.52],[3.35,-0.3],[3.36,-0.65],[3.38,-0.95],[3.4,-0.45],[3.42,-0.15],[3.44,-0.82],[3.46,-0.58],[3.48,-0.35],[3.5,-1.2],[3.52,-0.7],[3.54,0.0],[3.55,-0.5],
[3.58,-0.9],[3.6,-0.25],[3.62,-0.62],[3.64,-0.4],[3.66,-1.05],[3.68,-0.75],[3.7,-0.55],[3.72,-0.12],[3.75,-0.85],[3.77,-0.45],[3.8,-0.65],[3.82,-1.2],[3.84,-0.07],[3.86,-0.95],[3.88,-0.3],[3.9,-0.75],[3.92,-0.55],[3.95,-1.1],[3.97,-0.4],[4.0,-0.85],[4.02,-0.65],[4.05,-0.2],[4.08,-1.25],[4.1,-0.5],[4.11,-0.23],[4.13,-0.95],[4.15,-0.72],[4.18,-0.35],[4.2,-1.05],[4.23,-0.6],[4.26,-0.85],[4.3,-0.45],[4.33,-1.15],[4.36,-0.7],[4.4,-0.3],[4.42,-0.95],[4.46,-0.55],[4.5,-0.21],[4.52,-0.8],[4.56,-1.05],[4.6,-0.4],[4.65,-0.65],[4.7,-0.9],[4.75,-0.3],[4.8,-0.55],[4.85,-1.2],[4.9,-0.75],[4.96,-1.13],[5.0,-0.45],[5.05,-0.95],[5.13,-0.7],[5.2,-0.6],[5.29,-0.99],[5.29,-1.37],[6.02,-0.45],[6.06,-0.58],
[2.01,-0.03],[2.04,0.1],[2.07,-0.1],[2.09,-0.27],[2.11,0.02],[2.14,-0.08],[2.17,-0.2],[2.19,-0.35],[2.2,0.08],[2.23,-0.12],[2.24,-0.28],[2.26,-0.4],[2.27,0.03],[2.29,-0.18],[2.31,-0.3],[2.32,-0.48],[2.34,0.1],[2.35,-0.05],[2.37,-0.25],[2.38,-0.38],[2.39,-0.62],[2.41,0.05],[2.42,-0.12],[2.44,-0.22],[2.45,-0.45],[2.47,-0.3],[2.48,-0.55],[2.5,0.02],[2.51,-0.18],[2.53,-0.38],[2.54,-0.25],[2.56,-0.5],[2.57,-0.05],[2.59,-0.6],[2.6,-0.35],[2.61,-0.15],[2.63,-0.28],[2.64,-0.45],[2.66,0.02],[2.67,-0.55],[2.69,-0.2],[2.7,-0.38],[2.72,-0.68],[2.74,-0.1],[2.76,-0.28],[2.77,-0.48],[2.79,-0.6],[2.81,-0.38],[2.84,-0.2],[2.87,-0.52],[2.89,-0.68],[2.92,-0.35],[2.94,-0.48],[2.97,-0.62],[3.01,-0.38],[3.04,-0.55],[3.07,-0.2],[3.11,-0.45],[3.15,-0.55],[3.19,-0.3],[3.23,-0.72],[3.29,-0.55],[3.34,-0.45],[3.41,-0.6],[3.47,-0.8],[3.56,-0.65],[3.65,-0.78],[3.74,-0.6],[3.87,-0.62],[3.94,-0.48],[4.04,-0.55],[4.12,-0.6],[4.2,-0.5],
[1.9,-0.02],[1.95,0.05],[1.98,-0.15],[2.0,-0.3],[2.05,0.0],[2.06,-0.15],[2.1,-0.4],[2.12,0.06],[2.15,-0.28],[2.18,-0.45],[2.2,-0.05],[2.22,0.1],[2.25,-0.22],[2.28,-0.02],[2.3,-0.4],[2.33,-0.28],[2.35,0.12],[2.36,-0.15],[2.4,-0.32],[2.43,-0.05],[2.45,-0.18],[2.47,-0.5],[2.5,-0.3],[2.52,-0.08],[2.55,-0.4],[2.58,-0.2],[2.6,0.08],[2.62,-0.5],[2.65,-0.32],[2.68,-0.08],[2.7,-0.6],[2.72,-0.25],[2.75,-0.45],[2.78,-0.15],[2.8,-0.6],[2.83,-0.3],[2.86,-0.05],[2.88,-0.42],[2.9,-0.75],[2.93,-0.25],[2.96,-0.5],[3.0,-0.2],[3.02,-0.75],[3.06,-0.35],[3.1,-0.65],[3.14,-0.25],[3.18,-0.5],[3.22,-0.4],[3.27,-0.65],[3.32,-0.35],[3.38,-0.55],[3.45,-0.7],[3.52,-0.45],[3.6,-0.55],[3.7,-0.7],[3.8,-0.5],[3.9,-0.62],[4.0,-0.45],[4.1,-0.7],[4.16,-0.55]];
const colorFit = [[1.77,-0.31],[6.0,-1.68]];
const colorStarDet = [4.93,-0.30];
const colorStarNonDet = [3.25,-1.74];

// ---------------------------------------------------------------
// Figure
// ---------------------------------------------------------------
const svg = d3.select("#fig");
const AXIS_FONT = "Lato, 'DejaVu Sans', sans-serif";
const SANS = "'Liberation Sans', Arial, sans-serif";

const panels = [
  { box: {l: 256, r: 967, t: 19, b: 631}, xDomain: [9.8, 11.7], xTicks: massTicks, xFmt: ".1f", yMinor: 0.05,
    gray: massAlfalfa, det: massDet, rich: massHiRich, non: massNonDet, fit: massFit, limit: massLimit,
    starDet: massStarDet, starNon: massStarNonDet,
    xTitle: [["Log  M"], ["∗", "sub"], ["  (M"], ["⊙", "sub"], [")"]] },
  { box: {l: 1337, r: 2048, t: 19, b: 631}, xDomain: [7.5, 10.0], xTicks: densityTicks, xFmt: ".1f", yMinor: 0.05,
    gray: densityAlfalfa, det: densityDet, rich: densityHiRich, non: densityNonDet, fit: densityFit, limit: null,
    starDet: densityStarDet, starNon: densityStarNonDet,
    xTitle: [["Log  "], ["μ", "it"], ["∗", "sub"], ["  (M"], ["⊙", "sub"], ["  kpc"], ["−2", "sup"], [")"]] },
  { box: {l: 257, r: 968, t: 883, b: 1496}, xDomain: [1.5, 4.0], xTicks: concTicks, xFmt: ".1f", yMinor: 0.05,
    gray: concAlfalfa, det: concDet, rich: concHiRich, non: concNonDet, fit: concFit, limit: null,
    starDet: concStarDet, starNon: concStarNonDet,
    xTitle: [["R"], ["90", "sub"], ["/R"], ["50", "sub"]] },
  { box: {l: 1337, r: 2048, t: 883, b: 1496}, xDomain: [0.5, 7.5], xTicks: colorTicks, xFmt: "d", yMinor: 0.1,
    gray: colorAlfalfa, det: colorDet, rich: colorHiRich, non: colorNonDet, fit: colorFit, limit: null,
    starDet: colorStarDet, starNon: colorStarNonDet,
    xTitle: [["NUV−r  (mag)"]] }
];

const yTitle = [["Log  M"], ["HI", "sub"], ["/M"], ["∗", "sub"]];

// Writes a run of plain / sub / sup / italic pieces into a text element.
function richText(sel, segs, size) {
  let shift = 0;
  segs.forEach(([s, role]) => {
    const t = sel.append("tspan").text(s);
    let target = 0, fs = size;
    if (role === "sub") { target = size * 0.28; fs = size * 0.66; }
    if (role === "sup") { target = -size * 0.45; fs = size * 0.66; }
    if (role === "it") t.attr("font-style", "italic");
    t.attr("dy", target - shift).attr("font-size", fs);
    shift = target;
  });
}

function steps(d0, d1, step) {
  const a = Math.ceil(d0 / step - 1e-6), b = Math.floor(d1 / step + 1e-6);
  return d3.range(a, b + 1).map(i => +(i * step).toFixed(6));
}

const fmtY = d3.format(".1f");

panels.forEach((p, i) => {
  const {l, r, t, b} = p.box;
  const w = r - l, h = b - t;
  const x = d3.scaleLinear().domain(p.xDomain).range([0, w]);
  const y = d3.scaleLinear().domain([-2.5, 0.5]).range([h, 0]);
  const g = svg.append("g").attr("transform", `translate(${l},${t})`);

  g.append("clipPath").attr("id", "clip" + i)
    .append("rect").attr("width", w).attr("height", h);
  const plot = g.append("g").attr("clip-path", `url(#clip${i})`);

  // ALFALFA comparison sample
  plot.append("g").selectAll("circle").data(p.gray).join("circle")
    .attr("cx", d => x(d[0])).attr("cy", d => y(d[1]))
    .attr("r", 3.6).attr("fill", "#c8c8c8");

  // linear fit to the detections
  const line = d3.line().x(d => x(d[0])).y(d => y(d[1]));
  plot.append("path").attr("d", line(p.fit))
    .attr("fill", "none").attr("stroke", "#2a2a2a").attr("stroke-width", 2.8)
    .attr("stroke-dasharray", "2.8,12");

  // non-detections (upper limits)
  const tri = d3.symbol(d3.symbolTriangle, 130);
  plot.append("g").selectAll("path").data(p.non).join("path")
    .attr("d", tri)
    .attr("transform", d => `translate(${x(d[0])},${y(d[1])}) rotate(180)`)
    .attr("fill", "none").attr("stroke", "#2fe02f").attr("stroke-width", 1.8);

  // detection limit
  if (p.limit) {
    plot.append("path").attr("d", line(p.limit))
      .attr("fill", "none").attr("stroke", "#111").attr("stroke-width", 2.4)
      .attr("stroke-dasharray", "26,18");
  }

  // detections
  plot.append("g").selectAll("circle").data(p.det).join("circle")
    .attr("cx", d => x(d[0])).attr("cy", d => y(d[1]))
    .attr("r", 7.6).attr("fill", "none").attr("stroke", "#f5281e").attr("stroke-width", 2.2);

  // HI-rich additions
  plot.append("g").selectAll("circle").data(p.rich).join("circle")
    .attr("cx", d => x(d[0])).attr("cy", d => y(d[1]))
    .attr("r", 7.6).attr("fill", "none").attr("stroke", "#3848f2").attr("stroke-width", 2.2);

  // highlighted galaxies
  const star = d3.symbol(d3.symbolStar, 450);
  plot.append("path").attr("d", star)
    .attr("transform", `translate(${x(p.starDet[0])},${y(p.starDet[1])})`)
    .attr("fill", "#ec2a10").attr("stroke", "#2b1208").attr("stroke-width", 1.7);
  plot.append("path").attr("d", star)
    .attr("transform", `translate(${x(p.starNon[0])},${y(p.starNon[1])})`)
    .attr("fill", "#25cc25").attr("stroke", "#10300f").attr("stroke-width", 1.7);

  // ---- axes: ticks point inward on all four sides ----
  const d0 = p.xDomain[0], d1 = p.xDomain[1];
  const xMinor = steps(d0, d1, 0.1).filter(v => !p.xTicks.some(m => Math.abs(m - v) < 1e-6));
  const yMinor = steps(-2.5, 0.5, p.yMinor).filter(v => !ratioTicks.some(m => Math.abs(m - v) < 1e-6));
  const fmtX = d3.format(p.xFmt);

  const axes = g.append("g");
  axes.append("g").attr("transform", `translate(0,${h})`)
    .call(d3.axisBottom(x).tickValues(p.xTicks).tickSize(-12).tickPadding(31).tickFormat(fmtX));
  axes.append("g").attr("transform", `translate(0,${h})`)
    .call(d3.axisBottom(x).tickValues(xMinor).tickSize(-6).tickFormat(""));
  axes.append("g")
    .call(d3.axisTop(x).tickValues(p.xTicks).tickSize(-12).tickFormat(""));
  axes.append("g")
    .call(d3.axisTop(x).tickValues(xMinor).tickSize(-6).tickFormat(""));
  const left = axes.append("g")
    .call(d3.axisLeft(y).tickValues(ratioTicks).tickSize(-16).tickPadding(17).tickFormat(fmtY));
  axes.append("g")
    .call(d3.axisLeft(y).tickValues(yMinor).tickSize(-8).tickFormat(""));
  axes.append("g").attr("transform", `translate(${w},0)`)
    .call(d3.axisRight(y).tickValues(ratioTicks).tickSize(-16).tickFormat(""));
  axes.append("g").attr("transform", `translate(${w},0)`)
    .call(d3.axisRight(y).tickValues(yMinor).tickSize(-8).tickFormat(""));

  axes.selectAll(".domain").remove();
  axes.selectAll(".tick line").attr("stroke", "#000").attr("stroke-width", 2.6);
  axes.selectAll(".tick text")
    .attr("font-family", AXIS_FONT).attr("font-weight", 300)
    .attr("font-size", 44).attr("fill", "#333").attr("letter-spacing", 2);

  // end labels sit inside the frame height
  left.selectAll(".tick").filter(d => d === 0.5).select("text").attr("transform", "translate(0,16)");
  left.selectAll(".tick").filter(d => d === -2.5).select("text").attr("transform", "translate(0,-15)");

  // frame
  g.append("rect").attr("width", w).attr("height", h)
    .attr("fill", "none").attr("stroke", "#000").attr("stroke-width", 3);

  // axis titles
  const xt = g.append("text")
    .attr("x", w / 2).attr("y", h + 119).attr("text-anchor", "middle")
    .attr("font-family", AXIS_FONT).attr("font-weight", 300).attr("fill", "#333")
    .style("white-space", "pre");
  richText(xt, p.xTitle, 46);

  const yt = g.append("text")
    .attr("transform", `translate(-170,${h / 2}) rotate(-90)`).attr("text-anchor", "middle")
    .attr("font-family", AXIS_FONT).attr("font-weight", 300).attr("fill", "#333")
    .style("white-space", "pre");
  richText(yt, yTitle, 46);
});

// ---- legend in the stellar-mass panel ----
svg.append("text").attr("x", 792).attr("y", 108)
  .attr("font-family", SANS).attr("font-size", 46).attr("fill", "#e3301c").text("det");
svg.append("text").attr("x", 792).attr("y", 164)
  .attr("font-family", SANS).attr("font-size", 46).attr("fill", "#16c24c").text("non-det");

// ---- panel captions ----
function caption(x, y, txt) {
  return svg.append("text").attr("x", x).attr("y", y)
    .attr("font-family", SANS).attr("font-weight", "bold").attr("font-size", 63)
    .attr("fill", "#000").style("white-space", "pre").text(txt);
}
caption(784, 816, "Stellar Mass");
caption(797, 1627, "Concentration");
caption(2035, 1627, "Color");
caption(1968, 777, "Stellar Mass Surface");
const dens = caption(1968, 852, "Density, M");
dens.append("tspan").attr("font-family", "'DejaVu Sans', sans-serif").attr("font-weight", "normal")
  .attr("font-size", 44).attr("dy", 12).text("✳");
dens.append("tspan").attr("dy", -12).text(" / 2πR");
dens.append("tspan").attr("font-size", 44).attr("dy", 12).text("50");
dens.append("tspan").attr("font-size", 44).attr("dy", -38).text("2");

// ---- shared ordinate label ----
const big = svg.append("text")
  .attr("transform", "translate(68,740) rotate(-90)").attr("text-anchor", "middle")
  .attr("font-family", SANS).attr("font-weight", "bold").attr("font-size", 62)
  .attr("fill", "#000").style("white-space", "pre");
big.append("tspan").text("M");
big.append("tspan").attr("font-size", 28).text("HI");
big.append("tspan").text(" / M");
big.append("tspan").attr("font-family", "'DejaVu Sans', sans-serif").attr("font-weight", "normal").attr("font-size", 40).text("✳");

// ---- notes ----
const notes = [
  ["Gray: ALFALFA", 91],
  ["Blue: HI-rich galaxies", 203],
  ["added to DR1", 259],
  ["Dotted lines: fits to", 371],
  ["red + blue circles", 427]
];
svg.append("g").selectAll("text").data(notes).join("text")
  .attr("x", 2133).attr("y", d => d[1])
  .attr("font-family", SANS).attr("font-size", 47).attr("fill", "#000")
  .text(d => d[0]);
</script>
</body>
</html>
